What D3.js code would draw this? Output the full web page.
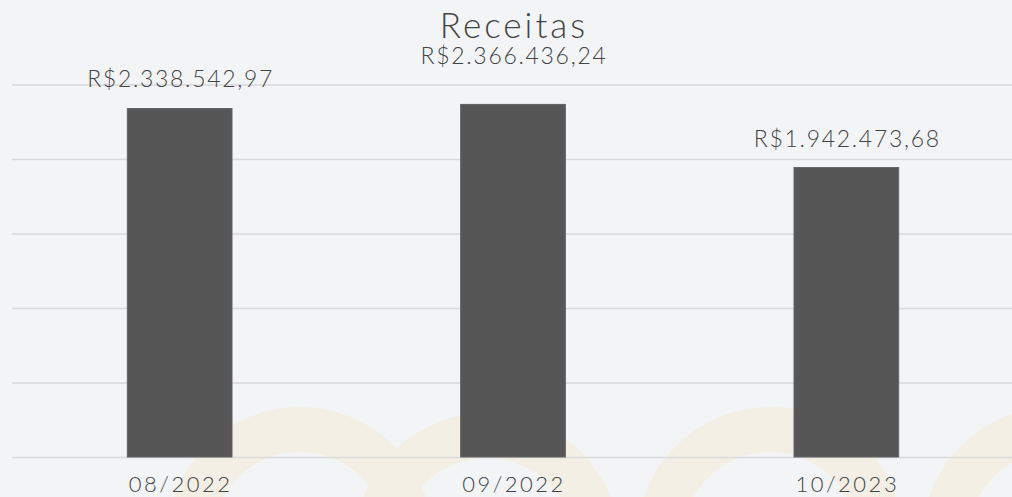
<!DOCTYPE html>
<html>
<head>
<meta charset="utf-8">
<script src="https://cdn.jsdelivr.net/npm/d3@7"></script>
<style>
  html, body { margin: 0; padding: 0; background: #f3f4f6; }
  svg { display: block; }
  text { font-family: "Lato", "Inter", sans-serif; font-weight: 300; fill: #444; }
</style>
</head>
<body>
<svg id="chart" width="1012" height="497"></svg>
<script>
// ---- data ----
const categories = ["08/2022", "09/2022", "10/2023"];
const values = [2338542.97, 2366436.24, 1942473.68];
const valueLabels = ["R$2.338.542,97", "R$2.366.436,24", "R$1.942.473,68"];
const yTicks = [0, 500000, 1000000, 1500000, 2000000, 2500000];
const title = "Receitas";

// ---- layout ----
const W = 1012, H = 497;
const plot = { left: 13, right: 1013, top: 84.5, bottom: 457 };
const barFrac = 0.314;
const labelLift = [22, 40, 21];
const rings = [ {cx: 300, cy: 540}, {cx: 487, cy: 546}, {cx: 770, cy: 540}, {cx: 1055, cy: 540} ];

const svg = d3.select("#chart");
svg.append("rect").attr("width", W).attr("height", H).attr("fill", "#f3f4f6");

// watermark rings
svg.append("g").selectAll("circle").data(rings).join("circle")
  .attr("cx", d => d.cx).attr("cy", d => d.cy).attr("r", 110.5)
  .attr("fill", "none").attr("stroke", "#f3efe4").attr("stroke-width", 45);

const x = d3.scaleBand().domain(categories).range([plot.left, plot.right]).padding(0);
const y = d3.scaleLinear().domain([0, 2500000]).range([plot.bottom, plot.top]);

// gridlines
const grid = svg.append("g").attr("transform", `translate(${plot.left - 1},0)`)
  .call(d3.axisLeft(y).tickValues(yTicks).tickSize(-(plot.right - plot.left)).tickFormat(""));
grid.select(".domain").remove();
grid.selectAll(".tick line").attr("stroke", "#d9d9db").attr("stroke-width", 1.6);

// bars
const bw = x.bandwidth() * barFrac;
svg.append("g").selectAll("rect").data(values).join("rect")
  .attr("x", (d, i) => x(categories[i]) + x.bandwidth() / 2 - bw / 2)
  .attr("width", bw)
  .attr("y", d => y(d))
  .attr("height", d => y(0) - y(d))
  .attr("fill", "#565656")
  .attr("stroke", "#626262").attr("stroke-width", 1);

// value labels
svg.append("g").selectAll("text").data(values).join("text")
  .attr("x", (d, i) => x(categories[i]) + x.bandwidth() / 2 + 1)
  .attr("y", (d, i) => y(d) - labelLift[i])
  .attr("text-anchor", "middle")
  .attr("font-size", 23)
  .attr("letter-spacing", 1.7)
  .text((d, i) => valueLabels[i]);

// x axis labels
const xa = svg.append("g").attr("transform", `translate(1,${plot.bottom})`)
  .call(d3.axisBottom(x).tickSize(0).tickPadding(0));
xa.select(".domain").remove();
xa.selectAll("text").attr("dy", null).attr("y", 35).attr("font-size", 22)
  .attr("letter-spacing", 2.5)
  .style("font-family", "Lato, Inter, sans-serif").style("font-weight", 300).attr("fill", "#444");

// title
svg.append("text").attr("x", 514).attr("y", 38).attr("text-anchor", "middle")
  .attr("font-size", 35).attr("letter-spacing", 3).text(title);
</script>
</body>
</html>
